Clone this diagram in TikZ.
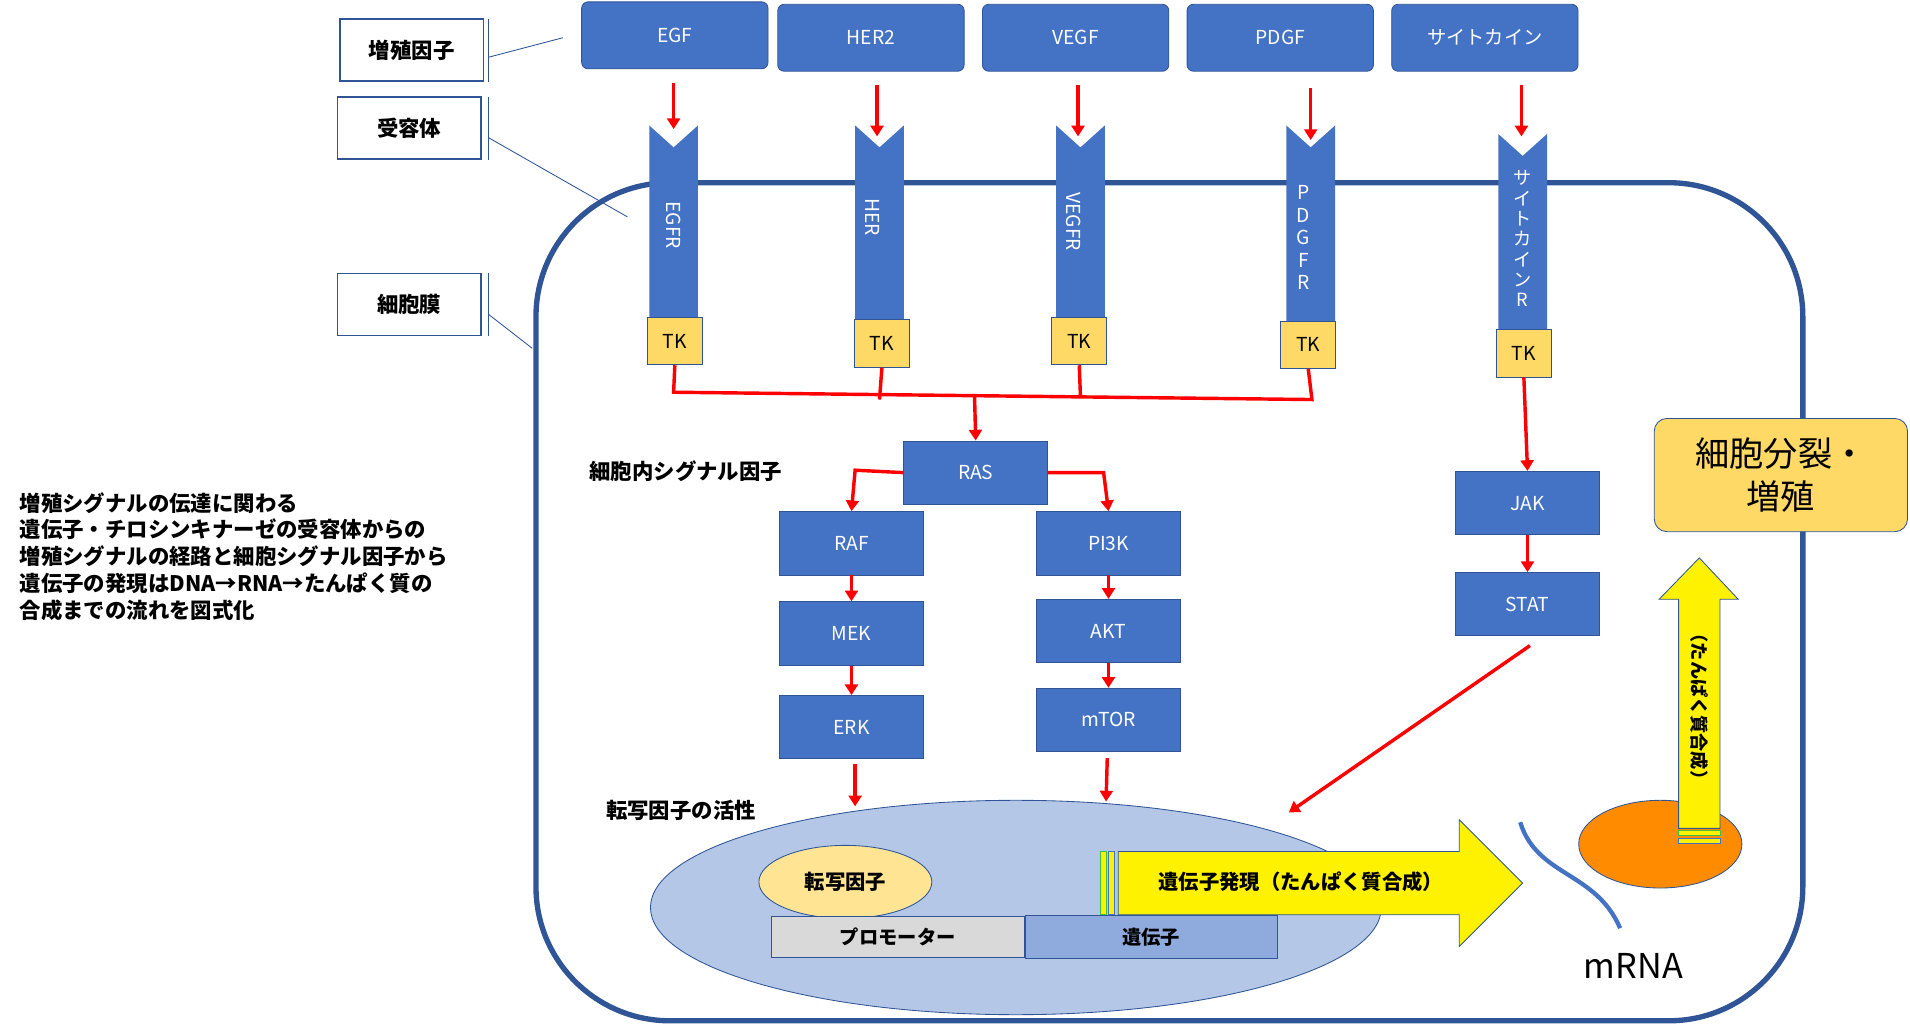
\documentclass[tikz,border=0pt]{standalone}
\usepackage{fontspec}
\setmainfont{Noto Sans CJK JP}
\usetikzlibrary{arrows.meta,positioning,calc,shapes.geometric}
\definecolor{blu}{HTML}{4472C4}
\definecolor{dblu}{HTML}{2F5597}
\definecolor{tky}{HTML}{FFD966}
\tikzset{
  blk/.style={draw=dblu,fill=blu,text=white,minimum width=2.36cm,minimum height=1.04cm,font=\fontsize{9}{10}\selectfont},
  lig/.style={blk,rounded corners=3pt,minimum width=3.06cm,minimum height=1.1cm},
  tk/.style={draw=dblu,fill=tky,minimum width=0.9cm,minimum height=0.78cm,font=\fontsize{9}{10}\selectfont},
  lbl/.style={draw=dblu,thick,minimum width=2.36cm,minimum height=1.02cm,font=\bfseries\fontsize{10}{11}\selectfont},
  sig/.style={red,line width=1.6pt,-{Triangle[length=5pt,width=6pt]}},
  rl/.style={red,line width=1.6pt},
  rec/.style={fill=blu},
}
\begin{document}
\begin{tikzpicture}[x=0.02cm,y=-0.02cm]
\useasboundingbox (0,0) rectangle (1568,841);
% labels on the left
\node[lbl] (lf) at (338,41) {増殖因子};
\node[lbl] (lr) at (336,105) {受容体};
\node[lbl] (lm) at (336,250) {細胞膜};
\foreach \n/\y/\a/\b in {lf/41/16/67,lr/105/80/131,lm/250/224/276}
  \draw[dblu] (401,\a) -- (401,\b);
\draw[dblu] (401,47) -- (462,31);
\draw[dblu] (401,113) -- (515,178);
\draw[dblu] (401,258) -- (437,286);
% cell
\draw[dblu,line width=2.5pt,rounded corners=2.2cm] (440,150) rectangle (1480,838);
% ligands
\node[lig] (egf) at (554,29) {EGF};
\node[lig] (her2) at (715,31) {HER2};
\node[lig] (vegf) at (883,31) {VEGF};
\node[lig] (pdgf) at (1051,31) {PDGF};
\node[lig] (cyt) at (1219,31) {サイトカイン};
% receptors
\foreach \x/\t/\b in {553/103/262,722/103/265,887/103/263,1076/103/266,1250/110/273}
  \fill[rec] (\x-20,\t) -- (\x,\t+18) -- (\x+20,\t) -- (\x+20,\b) -- (\x-20,\b) -- cycle;
\node[rotate=-90,text=white,font=\fontsize{9}{10}\selectfont] (egfr) at (553,185) {EGFR};
\node[rotate=-90,text=white,font=\fontsize{9}{10}\selectfont] (herr) at (716,178) {HER};
\node[rotate=-90,text=white,font=\fontsize{9}{10}\selectfont] (vegfr) at (881,182) {VEGFR};
\node[text=white,align=center,font=\fontsize{9}{10.5}\selectfont] (pdgfr) at (1070,195) {P\\D\\G\\F\\R};
\node[text=white,align=center,font=\fontsize{8.5}{9.5}\selectfont] (cytr) at (1250,196) {サ\\イ\\ト\\カ\\イ\\ン\\R};
\node[tk] (tk1) at (554,280) {TK};
\node[tk] (tk2) at (724,282) {TK};
\node[tk] (tk3) at (886,280) {TK};
\node[tk] (tk4) at (1074,283) {TK};
\node[tk] (tk5) at (1251,290) {TK};
\foreach \l/\x/\a/\b in {egf/553/68/106,her2/720/70/112,vegf/885/70/112,pdgf/1076/72/115,cyt/1249/70/112}
  \draw[sig] (\x,\a) -- (\x,\b);
% tk junction
\draw[rl] (tk1.south) -- (553,322) -- (1077,328) -- (tk4.south);
\draw[rl] (tk2.south) -- (722,328);
\draw[rl] (tk3.south) -- (887,326);
\coordinate (jn) at (800,324);
% intracellular cascade
\node[blk] (ras) at (801,388) {RAS};
\node[font=\bfseries\fontsize{10}{11}\selectfont] (ics) at (563,387) {細胞内シグナル因子};
\node[blk] (raf) at (699,446) {RAF};
\node[blk] (mek) at (699,520) {MEK};
\node[blk] (erk) at (699,597) {ERK};
\node[blk] (pi3k) at (910,446) {PI3K};
\node[blk] (akt) at (910,518) {AKT};
\node[blk] (mtor) at (910,591) {mTOR};
\node[blk] (jak) at (1254,413) {JAK};
\node[blk] (stat) at (1254,496) {STAT};
\draw[sig] (jn) -- (ras.north);
\draw[sig] (ras.west) -- (702,386) -- (raf.north);
\draw[sig] (ras.east) -- (906,388) -- (pi3k.north);
\draw[sig] (raf) -- (mek);
\draw[sig] (mek) -- (erk);
\draw[sig] (pi3k) -- (akt);
\draw[sig] (akt) -- (mtor);
\draw[sig] (tk5.south) -- (jak.north);
\draw[sig] (jak) -- (stat);
\draw[sig] (erk.south) ++(3,4) -- (702,662);
\draw[sig] (mtor.south) ++(-1,5) -- (908,658);
\coordinate (sx) at (1058,667);
\draw[sig] (1256,530) -- (sx);
% nucleus
\node[font=\bfseries\fontsize{10}{11}\selectfont] (act) at (559,665) {転写因子の活性};
\fill[fill=blu!40!white,draw=dblu] (834,745) ellipse [x radius=300,y radius=88];
\node[draw=dblu,fill=tky!70!white,ellipse,minimum width=2.84cm,minimum height=1.2cm,font=\bfseries\fontsize{9.5}{10}\selectfont] (tf) at (694,724) {転写因子};
\node[draw=dblu,fill=gray!30,minimum width=4.16cm,minimum height=0.68cm,font=\bfseries\fontsize{9}{10}\selectfont] (prom) at (737,769) {プロモーター};
\node[draw=dblu,fill=blu!60!white,minimum width=4.14cm,minimum height=0.7cm,font=\bfseries\fontsize{9}{10}\selectfont,anchor=west] (gene) at (prom.east) {遺伝子};
% expression arrow
\fill[yellow,draw=dblu] (918,699) -- (1198,699) -- (1198,673) -- (1250,725) -- (1198,777) -- (1198,751) -- (918,751) -- cycle;
\foreach \x/\c in {903/green!50!gray,910/blu}
  \draw[\c,fill=yellow] (\x,699) rectangle (\x+5,751);
\node[font=\bfseries\fontsize{9.5}{10}\selectfont] (expr) at (1068,724) {遺伝子発現（たんぱく質合成）};
\draw[blu,line width=2pt] (1248,675) .. controls (1262,720) and (1310,715) .. (1330,762);
\node[font=\fontsize{16}{18}\selectfont] (mrna) at (1341,793) {mRNA};
% ribosome and synthesis
\fill[fill=orange!90!yellow,draw=dblu] (1363,693) ellipse [x radius=67,y radius=36];
\fill[yellow,draw=dblu] (1378,680) -- (1378,492) -- (1362,492) -- (1395,458) -- (1427,492) -- (1412,492) -- (1412,680) -- cycle;
\foreach \y/\c in {682/green!50!gray,688/blu}
  \draw[\c,fill=yellow] (1378,\y) rectangle (1412,\y+4);
\node[rotate=-90,font=\bfseries\fontsize{8.5}{9}\selectfont] (syn) at (1395,580) {（たんぱく質合成）};
\node[draw=dblu,fill=tky,rounded corners=6pt,minimum width=4.16cm,minimum height=1.86cm,align=center,font=\fontsize{16}{20}\selectfont] (div) at (1462,390) {細胞分裂・\\増殖};
% description
\node[anchor=north west,align=left,font=\bfseries\fontsize{10}{12.5}\selectfont] (desc) at (10,398)
  {増殖シグナルの伝達に関わる\\遺伝子・チロシンキナーゼの受容体からの\\増殖シグナルの経路と細胞シグナル因子から\\遺伝子の発現はDNA→RNA→たんぱく質の\\合成までの流れを図式化};
\end{tikzpicture}
\end{document}
